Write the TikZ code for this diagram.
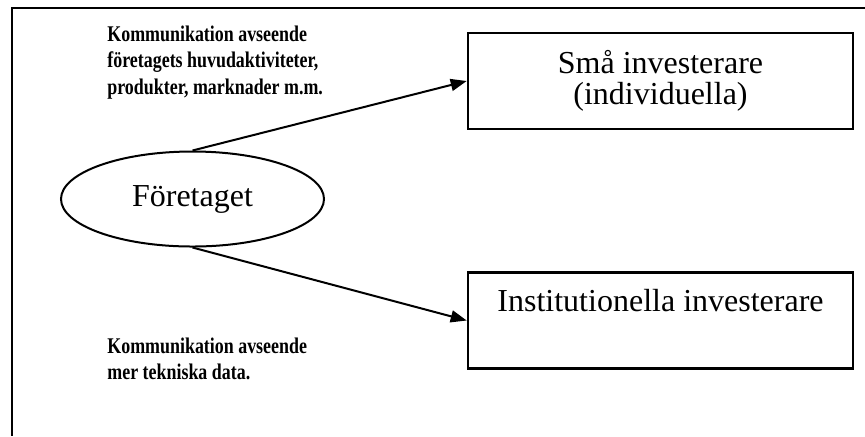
\documentclass[tikz,border=0pt]{standalone}
\usepackage{fontspec}
\setmainfont{Liberation Serif}
\newfontfamily\notefont[FakeStretch=0.8]{Liberation Serif}
\usetikzlibrary{arrows.meta, shapes.geometric}

\begin{document}
\begin{tikzpicture}[x=0.5pt, y=-0.5pt,
  every node/.style={inner sep=0pt},
  investor/.style={draw, line width=1.3pt, rectangle, minimum width=192.5pt,
    minimum height=48pt, align=center, font=\fontsize{16}{15.5}\selectfont},
  company/.style={draw, line width=1pt, ellipse, minimum width=131.5pt,
    minimum height=47.5pt, font=\fontsize{16}{15}\selectfont},
  note/.style={anchor=north west, align=left,
    font=\notefont\bfseries\fontsize{11.2}{13.2}\selectfont},
  flow/.style={line width=1pt, -{Triangle[length=8pt, width=6pt]}}]

\useasboundingbox (0,0) rectangle (865,436);

% ---- outer frame (runs off the page right and below) ----
\draw[line width=1pt] (865,7.5) -| (12,436);

% ---- the company and its two investor groups ----
\node[company] (firm) at (192.5,199) {Företaget};
\node[investor] (small) at (660.5,81) {Små investerare\\(individuella)};
\node[investor] (inst) at (660.5,320.5) {Institutionella investerare\\ \strut};

\draw[flow] (firm.north) -- (small.west);
\draw[flow] (firm.south) -- (inst.west);

% ---- what is communicated ----
\node[note] (topic1) at (107,25.5) {Kommunikation avseende\\företagets huvudaktiviteter,\\produkter, marknader m.m.};
\node[note] (topic2) at (107,337.5) {Kommunikation avseende\\mer tekniska data.};

\end{tikzpicture}
\end{document}
